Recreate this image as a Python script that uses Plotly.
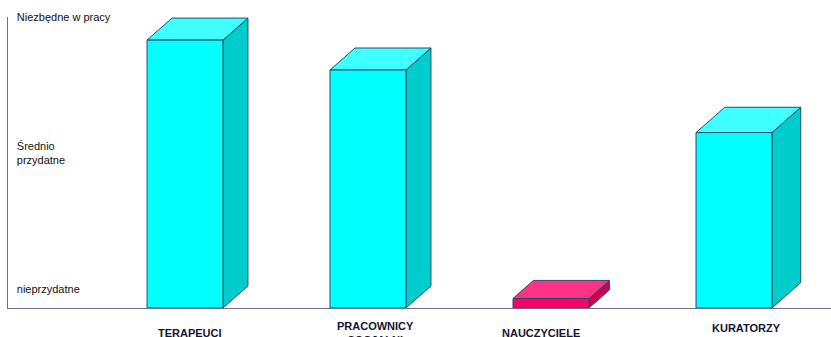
import plotly.graph_objects as go

# ---- data ----
categories = ["TERAPEUCI", "PRACOWNICY<br>SOCJALNI", "NAUCZYCIELE", "KURATORZY"]
values = [2.83, 2.61, 0.93, 2.15]
base_value = 0.86
tick_values = [1, 2, 3]
tick_labels = ["nieprzydatne", "Średnio<br>przydatne", "Niezbędne w pracy"]

# ---- style ----
front_colors = ["#00FFFF", "#00FFFF", "#FF0066", "#00FFFF"]
top_colors = ["#40FFFF", "#40FFFF", "#FF3385", "#40FFFF"]
side_colors = ["#00CCCC", "#00CCCC", "#CC0052", "#00CCCC"]
edge_color = "#2A4A6A"
bar_width = 0.415
depth_x = 0.1366
depth_y = 0.162
depth_scale = [1.0, 1.0, 0.82, 1.15]
label_xshift = [5, 8, -10, 12]
label_yshift = [-25, -25, -25, -20]

fig = go.Figure()

def poly(xs, ys, color):
    fig.add_trace(go.Scatter(
        x=xs + [xs[0]], y=ys + [ys[0]], mode="lines", fill="toself",
        fillcolor=color, line=dict(color=edge_color, width=1),
        hoverinfo="skip", showlegend=False))

for i, v in enumerate(values):
    xl = i - bar_width / 2
    xr = i + bar_width / 2
    b = base_value
    dx = depth_x * depth_scale[i]
    dy = depth_y * depth_scale[i]
    # side face
    poly([xr, xr + dx, xr + dx, xr], [b, b + dy, v + dy, v], side_colors[i])
    # top face
    poly([xl, xr, xr + dx, xl + dx], [v, v, v + dy, v + dy], top_colors[i])
    # front face
    poly([xl, xr, xr, xl], [b, b, v, v], front_colors[i])

for i, c in enumerate(categories):
    fig.add_annotation(
        x=i, xref="x", y=0, yref="paper", text="<b>" + c + "</b>",
        showarrow=False, xanchor="center", yanchor="middle",
        xshift=label_xshift[i], yshift=label_yshift[i],
        font=dict(family="Liberation Sans, Arial, sans-serif", size=11, color="#141432"),
        align="center")

fig.update_layout(
    width=831, height=337,
    margin=dict(l=8, r=0, t=17, b=29),
    paper_bgcolor="white", plot_bgcolor="white",
    xaxis=dict(range=[-0.967, 3.530], showgrid=False, zeroline=False,
               showticklabels=False, ticks="", showline=True,
               linecolor="#70708A", linewidth=1, fixedrange=True),
    yaxis=dict(range=[base_value, 3.0], showgrid=False, zeroline=False,
               tickvals=tick_values, ticktext=tick_labels,
               ticklabelposition="inside", ticklabeloverflow="allow",
               ticklabelstandoff=8, ticks="",
               tickfont=dict(family="Liberation Sans, Arial, sans-serif", size=11, color="#111111"),
               showline=True, linecolor="#70708A", linewidth=1, fixedrange=True),
    showlegend=False,
)

fig.write_html("out.html")
